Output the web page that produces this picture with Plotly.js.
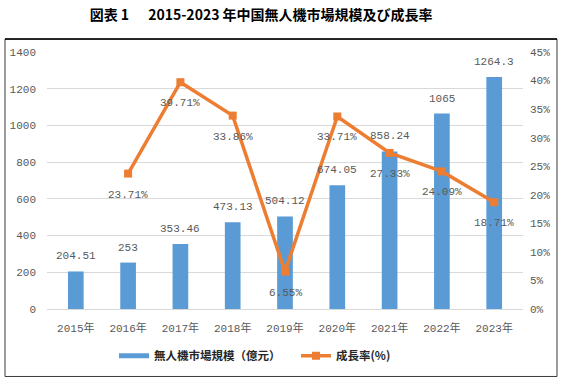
<!DOCTYPE html>
<html><head><meta charset="utf-8">
<script src="https://cdn.plot.ly/plotly-3.0.1.min.js"></script>
<style>html,body{margin:0;padding:0;background:#fff}#c{width:564px;height:382px}</style>
</head><body><div id="c"></div>
<script>
const years = ["2015年","2016年","2017年","2018年","2019年","2020年","2021年","2022年","2023年"];
const marketSize = [204.51, 253, 353.46, 473.13, 504.12, 674.05, 858.24, 1065, 1264.3];
const sizeLabels = ["204.51","253","353.46","473.13","504.12","674.05","858.24","1065","1264.3"];
const growthRate = [null, 23.71, 39.71, 33.86, 6.55, 33.71, 27.33, 24.09, 18.71];
const growthLabels = ["", "23.71%", "39.71%", "33.86%", "6.55%", "33.71%", "27.33%", "24.09%", "18.71%"];
const leftTicks = [0,200,400,600,800,1000,1200,1400];
const rightTicks = [0,5,10,15,20,25,30,35,40,45];
const rightTickText = ["0%","5%","10%","15%","20%","25%","30%","35%","40%","45%"];

const BLUE = "#5B9BD5", ORANGE = "#ED7D31", GRAY = "#595959";
const numFont = {family: "Liberation Mono, Noto Sans CJK JP", size: 11, color: GRAY};

const traces = [
  {type: "bar", x: years, y: marketSize, name: "無人機市場規模（億元）", showlegend: false,
   marker: {color: BLUE}, width: 0.3, hoverinfo: "none"},
  // legend swatch for the bar series (flat wide bar like the original)
  {type: "scatter", mode: "lines", x: [years[0]], y: [null], name: "無人機市場規模（億元）",
   line: {color: BLUE, width: 5}, hoverinfo: "none"},
  {type: "scatter", mode: "lines+markers", x: years, y: growthRate, yaxis: "y2",
   name: "成長率(%)", line: {color: ORANGE, width: 3.5},
   marker: {symbol: "square", size: 8, color: ORANGE}, connectgaps: false, hoverinfo: "none"}
];

const annotations = [];
years.forEach((yr, i) => {
  annotations.push({x: yr, y: marketSize[i], xref: "x", yref: "y", text: sizeLabels[i],
    showarrow: false, yshift: 15, font: numFont, yanchor: "middle"});
  if (growthRate[i] !== null) {
    annotations.push({x: yr, y: growthRate[i], xref: "x", yref: "y2", text: growthLabels[i],
      showarrow: false, yshift: -21, font: numFont, yanchor: "middle"});
  }
});

const px = v => (v - 47) / 476, py = v => (311 - v) / 259;
const shapes = [
  {type: "rect", xref: "paper", yref: "paper", x0: px(5), x1: px(557), y0: py(379), y1: py(39),
   line: {color: "#3a3a3a", width: 1}, fillcolor: "rgba(0,0,0,0)", layer: "below"},
  {type: "line", xref: "paper", yref: "paper", x0: px(5), x1: px(557), y0: py(39), y1: py(39),
   line: {color: "#000", width: 1.5}}
];

const layout = {
  width: 564, height: 382,
  margin: {l: 47, r: 41, t: 52, b: 71},
  paper_bgcolor: "#fff", plot_bgcolor: "#fff",
  title: {text: "<b>図表 1\u00a0\u00a0\u00a0\u00a0\u00a0 2015-2023 年中国無人機市場規模及び成長率</b>",
    x: 0.463, xref: "container", xanchor: "center", y: 0.96, yref: "container", yanchor: "middle",
    font: {family: "Noto Sans CJK JP", size: 14, color: "#000"}},
  xaxis: {type: "category", tickfont: numFont, showgrid: false, zeroline: false, showline: false,
    ticks: "", ticklabelstandoff: 11, fixedrange: true},
  yaxis: {range: [0, 1400], tickvals: leftTicks, ticktext: leftTicks.map(String), tickfont: numFont,
    showgrid: true, gridcolor: "#D9D9D9", gridwidth: 1, zeroline: true, zerolinecolor: "#D9D9D9",
    showline: false, ticks: "", ticklabelstandoff: 10, fixedrange: true},
  yaxis2: {range: [0, 45], overlaying: "y", side: "right", tickvals: rightTicks, ticktext: rightTickText,
    tickfont: numFont, showgrid: false, zeroline: false, showline: false, ticks: "",
    ticklabelstandoff: 6, fixedrange: true},
  showlegend: true,
  legend: {orientation: "h", x: px(114), xanchor: "left", y: py(358), yanchor: "middle",
    font: {family: "Noto Sans CJK JP", size: 11.5, color: "#262626", weight: "bold"},
    itemwidth: 30, entrywidth: 137, tracegroupgap: 0, bgcolor: "rgba(0,0,0,0)"},
  annotations: annotations,
  shapes: shapes,
  bargap: 0.7
};

Plotly.newPlot("c", traces, layout, {displayModeBar: false, staticPlot: true});
</script>
</body></html>
